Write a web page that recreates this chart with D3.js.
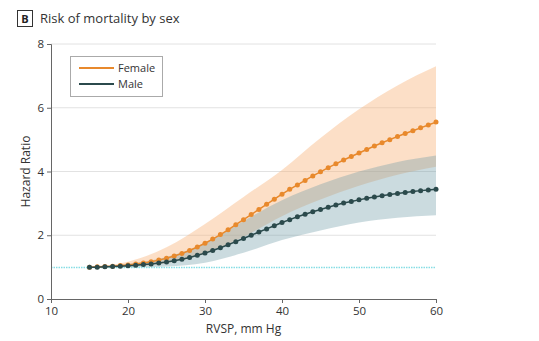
<!DOCTYPE html>
<html>
<head>
<meta charset="utf-8">
<script src="https://cdn.jsdelivr.net/npm/d3@7"></script>
<style>
  html, body { margin: 0; padding: 0; background: #fff; }
  svg { display: block; font-family: "Open Sans", "Noto Sans", sans-serif; }
</style>
</head>
<body>
<svg id="chart" width="539" height="341"></svg>
<script>
// RVSP values (mm Hg) for the fitted curves
const rvsp = d3.range(15, 61);

// Hazard ratio estimates by sex
const femaleHR = [
  1.00, 1.01, 1.02, 1.03, 1.05, 1.07, 1.10, 1.13, 1.17, 1.22,
  1.28, 1.35, 1.43, 1.52, 1.63, 1.75, 1.88, 2.02, 2.17, 2.33,
  2.49, 2.65, 2.81, 2.97, 3.13, 3.29, 3.44, 3.58, 3.72, 3.86,
  3.99, 4.12, 4.24, 4.36, 4.47, 4.58, 4.69, 4.80, 4.90, 5.00,
  5.10, 5.19, 5.28, 5.37, 5.46, 5.55
];
const maleHR = [
  1.00, 1.00, 1.01, 1.02, 1.03, 1.04, 1.06, 1.08, 1.10, 1.13,
  1.16, 1.20, 1.25, 1.30, 1.37, 1.44, 1.52, 1.61, 1.70, 1.80,
  1.90, 2.00, 2.10, 2.20, 2.30, 2.40, 2.49, 2.58, 2.66, 2.74,
  2.81, 2.88, 2.95, 3.01, 3.06, 3.11, 3.16, 3.20, 3.24, 3.28,
  3.31, 3.34, 3.37, 3.40, 3.42, 3.44
];

// 95% confidence bands, sampled every 5 mm Hg
const bandRVSP = [15, 20, 25, 30, 35, 40, 45, 50, 55, 60];
const femaleUpper = [1.00, 1.17, 1.62, 2.35, 3.20, 4.05, 5.05, 5.95, 6.70, 7.30];
const femaleLower = [1.00, 1.02, 1.12, 1.42, 1.95, 2.60, 3.12, 3.55, 3.90, 4.15];
const maleUpper   = [1.00, 1.10, 1.32, 1.75, 2.45, 3.10, 3.60, 4.00, 4.30, 4.50];
const maleLower   = [1.00, 0.99, 1.02, 1.14, 1.45, 1.85, 2.15, 2.40, 2.55, 2.63];

// Axis ticks
const xTicks = [10, 20, 30, 40, 50, 60];
const yTicks = [0, 2, 4, 6, 8];

const seriesNames = ["Female", "Male"];
const seriesColors = ["#e8892c", "#2b4a4c"];

const svg = d3.select("#chart");
const margin = { left: 51, right: 103, top: 44, bottom: 42 };
const W = 539, H = 341;

const x = d3.scaleLinear().domain([10, 60]).range([margin.left, W - margin.right]);
const y = d3.scaleLinear().domain([0, 8]).range([H - margin.bottom, margin.top]);

// Panel title
const title = svg.append("g");
title.append("rect")
  .attr("x", 17.5).attr("y", 10.5).attr("width", 15).attr("height", 16)
  .attr("fill", "none").attr("stroke", "#333").attr("stroke-width", 1);
title.append("text")
  .attr("x", 25).attr("y", 23).attr("text-anchor", "middle")
  .attr("font-size", 11).attr("font-weight", "bold").attr("fill", "#222")
  .text("B");
title.append("text")
  .attr("x", 40).attr("y", 23)
  .attr("font-size", 13).attr("fill", "#333")
  .text("Risk of mortality by sex");

// Horizontal gridlines
svg.append("g")
  .selectAll("line")
  .data(yTicks.filter(d => d > 0))
  .join("line")
  .attr("x1", x(10)).attr("x2", x(60))
  .attr("y1", d => y(d)).attr("y2", d => y(d))
  .attr("stroke", "#e2e2e2").attr("stroke-width", 1);

// Confidence bands
const bandArea = (lo, hi) => d3.area()
  .x((d, i) => x(bandRVSP[i]))
  .y0((d, i) => y(lo[i]))
  .y1((d, i) => y(hi[i]))
  .curve(d3.curveMonotoneX);

svg.append("path")
  .datum(bandRVSP)
  .attr("d", bandArea(femaleLower, femaleUpper))
  .attr("fill", "#f7b27a").attr("fill-opacity", 0.42);

svg.append("path")
  .datum(bandRVSP)
  .attr("d", bandArea(maleLower, maleUpper))
  .attr("fill", "#6f9aa5").attr("fill-opacity", 0.36);

// Reference line at HR = 1
svg.append("line")
  .attr("x1", x(10)).attr("x2", x(60))
  .attr("y1", Math.round(y(1)) + 0.5).attr("y2", Math.round(y(1)) + 0.5)
  .attr("stroke", "#86dde4").attr("stroke-width", 1.3)
  .attr("stroke-dasharray", "1.5,1");

// Axes
const xAxis = d3.axisBottom(x).tickValues(xTicks).tickSize(4).tickPadding(4);
const yAxis = d3.axisLeft(y).tickValues(yTicks).tickSize(4).tickPadding(3);

const gx = svg.append("g").attr("transform", `translate(0,${y(0)})`).call(xAxis);
const gy = svg.append("g").attr("transform", `translate(${x(10)},0)`).call(yAxis);
[gx, gy].forEach(g => {
  g.select(".domain").attr("stroke", "#666");
  g.selectAll(".tick line").attr("stroke", "#666");
  g.selectAll(".tick text").attr("fill", "#333").attr("font-size", 11.5)
    .attr("font-family", "'Open Sans', sans-serif");
});

// Axis titles
svg.append("text")
  .attr("x", (x(10) + x(60)) / 2).attr("y", 333)
  .attr("text-anchor", "middle").attr("font-size", 12).attr("fill", "#333")
  .text("RVSP, mm Hg");
svg.append("text")
  .attr("transform", `translate(30,${(y(0) + y(8)) / 2}) rotate(-90)`)
  .attr("text-anchor", "middle").attr("font-size", 12).attr("fill", "#333")
  .text("Hazard Ratio");

// Curves with point markers
const line = d3.line().x((d, i) => x(rvsp[i])).y(d => y(d));
[femaleHR, maleHR].forEach((vals, k) => {
  const g = svg.append("g");
  g.append("path").datum(vals)
    .attr("d", line)
    .attr("fill", "none").attr("stroke", seriesColors[k]).attr("stroke-width", 1.5);
  g.selectAll("circle").data(vals).join("circle")
    .attr("cx", (d, i) => x(rvsp[i])).attr("cy", d => y(d))
    .attr("r", 2.5).attr("fill", seriesColors[k]);
});

// Legend
const legend = svg.append("g");
legend.append("rect")
  .attr("x", 70.5).attr("y", 56.5).attr("width", 92).attr("height", 40)
  .attr("fill", "#fff").attr("stroke", "#aaa").attr("stroke-width", 1);
seriesNames.forEach((name, k) => {
  const ly = 68 + k * 16;
  legend.append("line")
    .attr("x1", 79).attr("x2", 114).attr("y1", ly).attr("y2", ly)
    .attr("stroke", seriesColors[k]).attr("stroke-width", 2);
  legend.append("text")
    .attr("x", 118).attr("y", ly + 4)
    .attr("font-size", 11).attr("fill", "#333")
    .text(name);
});
</script>
</body>
</html>
